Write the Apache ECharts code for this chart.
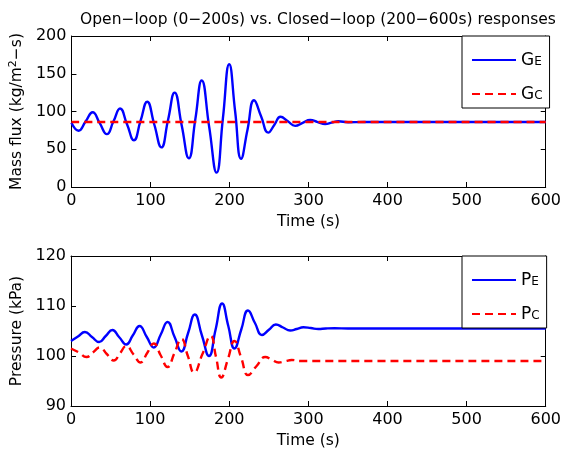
<!DOCTYPE html>
<html>
<head>
<meta charset="utf-8">
<script src="https://cdn.jsdelivr.net/npm/echarts@6/dist/echarts.min.js"></script>
<style>html,body{margin:0;padding:0;background:#fff}#c{width:564px;height:450px}</style>
</head>
<body>
<div id="c"></div>
<script>
// ---- Data ----
const titleText = 'Open\u2212loop (0\u2212200s) vs. Closed\u2212loop (200\u2212600s) responses';
const xTicks = [0, 100, 200, 300, 400, 500, 600];
const fluxTicks = [0, 50, 100, 150, 200];
const pressTicks = [90, 100, 110, 120];

const geTime = [0, 9, 17.9, 26.8, 35.8, 44.8, 53.2, 61.5, 70.3, 79, 87.4, 95.8, 104.8, 113.8, 122.2, 130.5, 139.5, 148.5, 156.7, 164.8, 174.2, 183.6, 191.6, 199.6, 207.1, 214.6, 222.8, 231, 240, 249, 256.8, 264.5, 273.8, 283, 292.5, 302, 311.5, 321, 329.3, 337.6, 350, 370, 600];
const geVal  = [85, 74.6, 86.8, 99, 84.5, 70, 87, 104, 83, 62, 87.5, 113, 82.8, 52.5, 88.8, 125, 81.5, 38, 89.5, 141, 80, 19, 90.8, 162.5, 100, 37.5, 76.3, 115, 93.5, 72, 82.5, 93, 87, 81, 84.9, 88.7, 86, 83.4, 85.2, 87, 85.8, 86, 86];

const gcTime = [0, 600];
const gcVal  = [86, 86];

const peTime = [0, 8.8, 17.6, 26.5, 35.5, 43.9, 52.3, 61, 69.8, 78.2, 86.6, 95.6, 104.6, 113.3, 122, 130.8, 139.6, 148, 156.4, 165.4, 174.4, 182.7, 191, 198.8, 206.6, 215.2, 223.7, 232.5, 241.3, 250.1, 258.9, 268, 277, 285.3, 293.7, 303, 312.6, 322, 333, 350, 600];
const peVal  = [103, 103.9, 104.8, 103.8, 102.8, 104, 105.2, 103.75, 102.3, 104.15, 106, 103.85, 101.7, 104.25, 106.8, 103.85, 100.9, 104.6, 108.3, 104.15, 100, 105.25, 110.5, 106, 101.5, 105.3, 109.1, 106.6, 104.2, 105.25, 106.3, 105.7, 105.1, 105.4, 105.75, 105.6, 105.4, 105.5, 105.55, 105.5, 105.5];

const pcTime = [0, 10, 19.6, 28, 36.4, 45.2, 54, 62, 69.9, 78.9, 87.9, 96.3, 104.6, 113.3, 122, 130.8, 139.6, 147.6, 155.6, 166, 176.5, 183.2, 189.9, 198.3, 206.6, 215.2, 223.7, 234.6, 245.5, 254, 262.3, 270.7, 279, 290, 320, 600];
const pcVal  = [101.5, 100.7, 99.8, 100.75, 101.7, 100.4, 99.1, 100.55, 102, 100.35, 98.7, 100.6, 102.5, 100.15, 97.8, 100.6, 103.4, 100.05, 96.7, 100.35, 104, 99.85, 95.7, 99.35, 103, 99.6, 96.2, 98, 99.8, 99.25, 98.7, 98.95, 99.2, 99, 99, 99];

// ---- Helpers ----
const zip = (a, b) => a.map((t, i) => [t, b[i]]);
const FONT = 'DejaVu Sans';
const BLACK = '#000';
const TICK_FS = 16;
const NAME_FS = 15.5;

function xAx(grid, pos, withLabels) {
  return {
    gridIndex: grid, type: 'value', position: pos,
    min: xTicks[0], max: xTicks[xTicks.length - 1], interval: xTicks[1] - xTicks[0],
    axisLine: { show: true, onZero: false, lineStyle: { color: BLACK, width: 1 } },
    axisTick: { show: true, inside: true, length: 5, lineStyle: { color: BLACK } },
    axisLabel: { show: withLabels, color: BLACK, fontSize: TICK_FS, fontFamily: FONT, margin: 6 },
    splitLine: { show: false },
    name: withLabels ? 'Time (s)' : '',
    nameLocation: 'middle', nameGap: 27,
    nameTextStyle: { color: BLACK, fontSize: NAME_FS, fontFamily: FONT }
  };
}
function yAx(grid, pos, ticks, withLabels, name) {
  return {
    gridIndex: grid, type: 'value', position: pos,
    min: ticks[0], max: ticks[ticks.length - 1], interval: ticks[1] - ticks[0],
    axisLine: { show: true, onZero: false, lineStyle: { color: BLACK, width: 1 } },
    axisTick: { show: true, inside: true, length: 5, lineStyle: { color: BLACK } },
    axisLabel: { show: withLabels, color: BLACK, fontSize: TICK_FS, fontFamily: FONT, margin: 5 },
    splitLine: { show: false },
    name: name || '',
    nameLocation: 'middle', nameGap: 37,
    nameTextStyle: {
      color: BLACK, fontSize: NAME_FS, fontFamily: FONT,
      rich: { sup: { fontSize: 11, fontFamily: FONT, color: BLACK, verticalAlign: 'top', padding: [0, 0, 7, 0] } }
    }
  };
}
function lineSeries(name, data, color, dashed, xi, yi) {
  return {
    name: name, type: 'line', data: data, xAxisIndex: xi, yAxisIndex: yi,
    smooth: 0.5, symbol: 'none', showSymbol: false,
    lineStyle: { color: color, width: 2.4, type: dashed ? [8, 5] : 'solid' },
    itemStyle: { color: color },
    emphasis: { disabled: true }, animation: false
  };
}
function legendFor(names, top) {
  return {
    data: names, orient: 'vertical', left: 462, top: top,
    itemWidth: 44, itemHeight: 14, itemGap: 7, itemTextGap: 4,
    padding: [6, 7, 5, 9],
    backgroundColor: '#fff', borderColor: BLACK, borderWidth: 1,
    itemStyle: { color: 'transparent', borderColor: 'transparent', borderWidth: 0, opacity: 0 },
    formatter: n => '{m|' + n.split('_')[0] + '}{s|' + n.split('_')[1] + '}',
    textStyle: {
      color: BLACK, fontFamily: FONT,
      rich: {
        m: { fontSize: 17, lineHeight: 16, verticalAlign: 'top', fontFamily: FONT, color: BLACK },
        s: { fontSize: 12, lineHeight: 12, padding: [14, 0, 0, 0], verticalAlign: 'bottom', fontFamily: FONT, color: BLACK }
      }
    }
  };
}

const chart = echarts.init(document.getElementById('c'), null, { renderer: 'canvas' });
chart.setOption({
  animation: false,
  backgroundColor: '#fff',
  textStyle: { fontFamily: FONT },
  title: {
    text: titleText, left: 313, textAlign: 'center', top: 7,
    textStyle: { fontSize: 15.5, fontWeight: 'normal', color: BLACK, fontFamily: FONT }
  },
  grid: [
    { left: 71, width: 478, top: 36, height: 151, containLabel: false },
    { left: 71, width: 478, top: 256, height: 151, containLabel: false }
  ],
  xAxis: [xAx(0, 'bottom', true), xAx(0, 'top', false), xAx(1, 'bottom', true), xAx(1, 'top', false)],
  yAxis: [
    yAx(0, 'left', fluxTicks, true, 'Mass flux (kg/m{sup|2}\u2212s)'),
    yAx(0, 'right', fluxTicks, false),
    yAx(1, 'left', pressTicks, true, 'Pressure (kPa)'),
    yAx(1, 'right', pressTicks, false)
  ],
  legend: [legendFor(['G_E', 'G_C'], 36), legendFor(['P_E', 'P_C'], 256)],
  series: [
    lineSeries('G_E', zip(geTime, geVal), '#0000ff', false, 0, 0),
    lineSeries('G_C', zip(gcTime, gcVal), '#ff0000', true, 0, 0),
    lineSeries('P_E', zip(peTime, peVal), '#0000ff', false, 2, 2),
    lineSeries('P_C', zip(pcTime, pcVal), '#ff0000', true, 2, 2)
  ]
});
</script>
</body>
</html>
